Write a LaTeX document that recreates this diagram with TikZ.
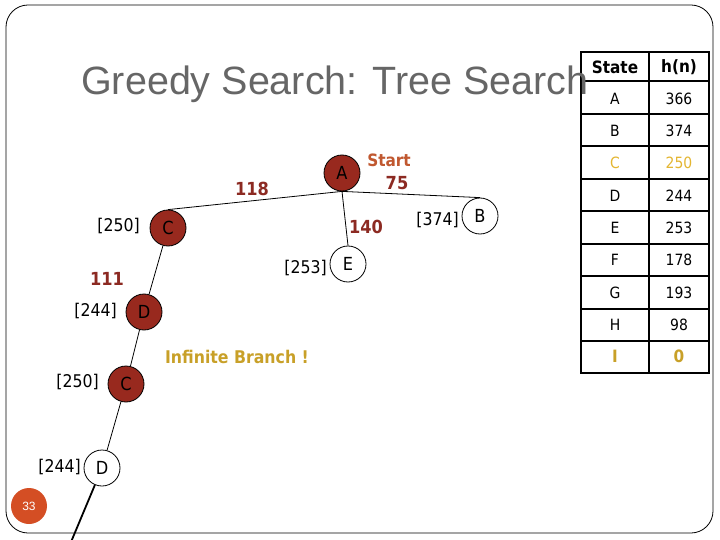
\documentclass[tikz,border=0pt]{standalone}
\usepackage{fontspec}
\setmainfont{DejaVu Sans Condensed}
\newfontfamily\arialf{Liberation Sans}
\definecolor{nodefill}{RGB}{152,41,30}
\definecolor{costred}{RGB}{140,42,34}
\definecolor{startcol}{RGB}{192,88,48}
\definecolor{goldc}{RGB}{200,160,40}
\definecolor{goldl}{RGB}{228,182,50}
\definecolor{titlegray}{RGB}{102,102,102}
\definecolor{slidecol}{RGB}{212,78,36}
\tikzset{
  px/.style={x=1pt,y=-1pt},
  stnode/.style={circle, draw=black, line width=0.8pt, minimum size=36pt, inner sep=0pt, font=\fontsize{18}{20}\selectfont},
  filled/.style={stnode, fill=nodefill},
  open/.style={stnode, fill=white},
  lbl/.style={inner sep=0pt, font=\fontsize{17.5}{20}\selectfont, anchor=east},
  cost/.style={inner sep=0pt, font=\bfseries\fontsize{18}{20}\selectfont, text=costred},
  edge/.style={draw=black, line width=0.8pt},
  cell/.style={inner sep=0pt, font=\fontsize{15.5}{18}\selectfont},
  hcell/.style={inner sep=0pt, font=\bfseries\fontsize{17}{19}\selectfont},
}
\begin{document}
\begin{tikzpicture}[px]
\useasboundingbox (0,0) rectangle (720,540);
% frame
\draw[line width=0.8pt, rounded corners=22pt] (6,5) rectangle (713,533);

% table
\fill[white] (581,52) rectangle (709,373);
\draw[line width=2pt] (649,52) -- (649,373);
\foreach \yy in {81,114,146,179,211,244,276,309,341}{
  \draw[line width=2pt] (581,\yy) -- (709,\yy);
}
\draw[line width=2.5pt] (581,52) rectangle (709,373);
\node[hcell] (hs) at (615,67) {State};
\node[hcell] (hh) at (679,67) {h(n)};
\foreach \st/\hv/\yy [count=\i] in {A/366/99, B/374/131, D/244/196, E/253/228, F/178/260, G/193/293, H/98/325}{
  \node[cell] (s\i) at (615,\yy) {\st};
  \node[cell] (v\i) at (679,\yy) {\hv};
}
\node[cell, text=goldl] (sC) at (615,163) {C};
\node[cell, text=goldl] (vC) at (679,163) {250};
\node[hcell, text=goldc] (sI) at (615,356) {I};
\node[hcell, text=goldc] (vI) at (679,356) {0};

% title
\node[anchor=base west, inner sep=0pt, text=titlegray, font=\arialf\fontsize{39.5}{44}\selectfont] (title) at (81,95) {Greedy Search: Tree Search};

% tree nodes
\node[filled] (A) at (342,173) {A};
\node[filled] (C1) at (168,228) {C};
\node[filled] (D1) at (144,312) {D};
\node[filled] (C2) at (126,384) {C};
\node[open] (D2) at (102,468) {D};
\node[open] (E) at (348,264) {E};
\node[open] (B) at (480,216) {B};
\coordinate (off) at (71,542);

% edges
\draw[edge] (A.south) -- (C1.north);
\draw[edge] (A.south) -- (B.north);
\draw[edge] (A.south) -- (E.north);
\draw[edge] (C1) -- (D1);
\draw[edge] (D1) -- (C2);
\draw[edge] (C2) -- (D2);
\draw[line width=1.8pt] (D2) -- (off);

% heuristic labels
\node[lbl] (l1) at (140,226) {[250]};
\node[lbl] (l2) at (117,311) {[244]};
\node[lbl] (l3) at (99,382) {[250]};
\node[lbl] (l4) at (81,467) {[244]};
\node[lbl] (l5) at (327,268) {[253]};
\node[lbl] (l6) at (459,220) {[374]};

% costs
\node[cost] (c118) at (252,189) {118};
\node[cost] (c140) at (366,227) {140};
\node[cost] (c111) at (107,279) {111};
\node[cost] (c75) at (397,183) {75};
\node[cost, text=startcol, font=\bfseries\fontsize{17}{20}\selectfont] (start) at (389,160) {Start};
\node[inner sep=0pt, font=\bfseries\fontsize{17.5}{20}\selectfont, text=goldc] (inf) at (237,357) {Infinite Branch !};

% slide number
\node[circle, fill=slidecol, minimum size=36pt, inner sep=0pt, text=white, font=\arialf\fontsize{12}{14}\selectfont] (num) at (29,506) {33};
\end{tikzpicture}
\end{document}
